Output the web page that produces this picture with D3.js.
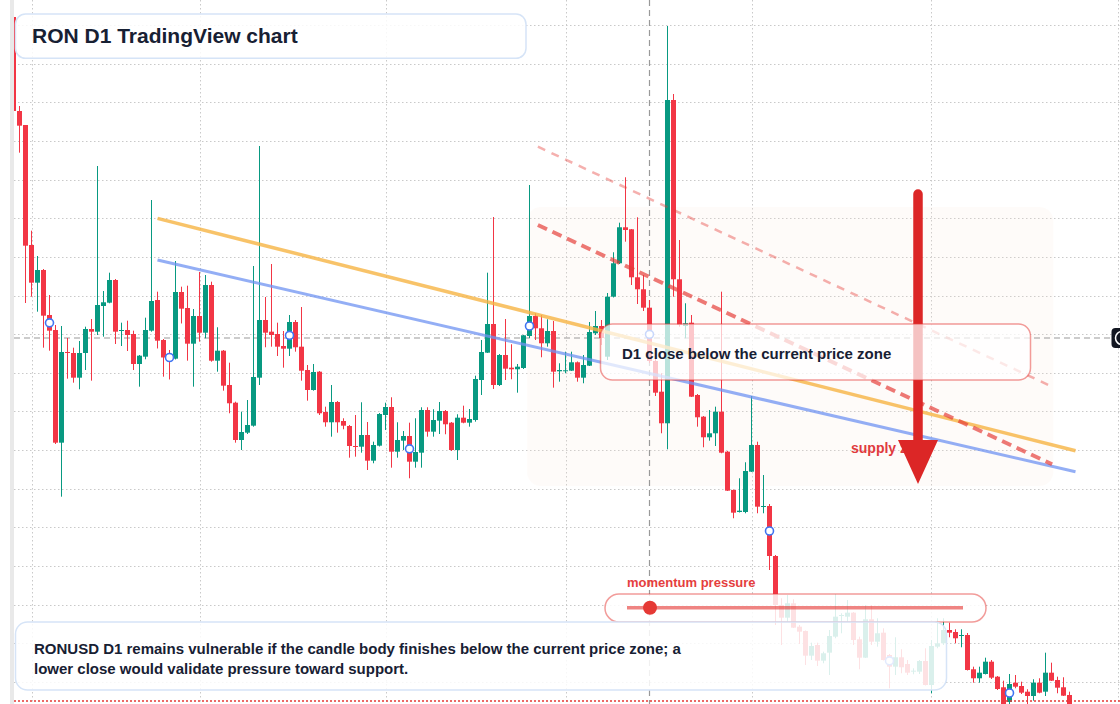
<!DOCTYPE html>
<html>
<head>
<meta charset="utf-8">
<script src="https://cdn.jsdelivr.net/npm/d3@7"></script>
<style>
  html, body { margin: 0; padding: 0; background: #fff; }
  svg { display: block; font-family: "Liberation Sans", Arial, Helvetica, sans-serif; }
</style>
</head>
<body>
<svg id="chart" width="1120" height="704"></svg>
<script>
// RONUSD daily candles, first bar 2025-01-29
const startDay = Date.UTC(2025, 0, 29);

const opens = [
  1.9575, 1.7225, 1.6875, 1.3875, 1.2933, 1.325, 1.2125, 1.175, 0.8933, 1.12,
  1.1175, 1.0558, 1.1175, 1.1775, 1.1708, 1.235, 1.2433, 1.3, 1.1738, 1.175,
  1.165, 1.09, 1.1083, 1.1733, 1.25, 1.15, 1.11, 1.1033, 1.27, 1.23,
  1.1408, 1.21, 1.1683, 1.2875, 1.0983, 1.1233, 1.0375, 0.9933, 0.9, 0.9183,
  0.9358, 1.0558, 1.2, 1.1708, 1.165, 1.135, 1.1283, 1.195, 1.1333, 1.075,
  1.025, 1.0708, 0.97, 0.9443, 0.995, 0.9475, 0.935, 0.885, 0.8833, 0.9125,
  0.8483, 0.8858, 0.9625, 0.9825, 0.8708, 0.8983, 0.91, 0.8458, 0.8683, 0.975,
  0.9208, 0.9483, 0.9725, 0.9433, 0.875, 0.9558, 0.9433, 0.95, 1.05, 1.1183,
  1.19, 1.0375, 1.1125, 1.0808, 1.0768, 1.08, 1.16, 1.21, 1.1793, 1.1418,
  1.1725, 1.0718, 1.0725, 1.0733, 1.0943, 1.0558, 1.0858, 1.1668, 1.185, 1.1083,
  1.2583, 1.3418, 1.4318, 1.4268, 1.3068, 1.2768, 1.2308, 1.0975, 1.0208, 0.9418,
  1.75, 1.3018, 1.185, 1.1933, 1.0125, 0.9583, 0.9068, 0.9168, 0.9708, 0.8708,
  0.775, 0.72, 0.72, 0.8208, 0.8875, 0.7333, 0.735, 0.61, 0.4875, 0.4558,
  0.4918, 0.4333, 0.4225, 0.3608, 0.3875, 0.3483, 0.3683, 0.4083, 0.4608, 0.4583,
  0.4683, 0.4018, 0.3558, 0.4518, 0.3958, 0.4183, 0.3625, 0.3333, 0.3568, 0.34,
  0.3208, 0.3208, 0.3475, 0.2875, 0.3833, 0.3918, 0.425, 0.42, 0.4113, 0.4125,
  0.3268, 0.3043, 0.315, 0.3458, 0.3083, 0.2818, 0.245, 0.2933, 0.285, 0.2708,
  0.26, 0.2933, 0.2708, 0.3183, 0.3, 0.2818, 0.2625
];
const highs = [
  1.9625, 1.735, 1.6875, 1.4233, 1.36, 1.3275, 1.2625, 1.1875, 1.185, 1.155,
  1.1308, 1.1475, 1.1833, 1.2025, 1.585, 1.2725, 1.3183, 1.3025, 1.1933, 1.1983,
  1.1733, 1.1125, 1.2058, 1.5, 1.2708, 1.1525, 1.125, 1.3475, 1.2833, 1.2858,
  1.2275, 1.32, 1.3125, 1.2958, 1.1818, 1.125, 1.0933, 0.9958, 0.9708, 1.0,
  1.335, 1.635, 1.2575, 1.34, 1.1933, 1.1725, 1.2125, 1.2, 1.2325, 1.0875,
  1.09, 1.0725, 0.9833, 1.0375, 0.9975, 0.9543, 0.9375, 0.9625, 0.9943, 0.945,
  0.8958, 0.9675, 0.9933, 1.0068, 0.9443, 0.9225, 0.9433, 0.9543, 0.9818, 0.9818,
  0.9768, 0.995, 0.975, 0.945, 0.9643, 0.9858, 0.9775, 1.0608, 1.15, 1.3183,
  1.4575, 1.115, 1.2025, 1.1393, 1.09, 1.1625, 1.5375, 1.2168, 1.2125, 1.2018,
  1.1975, 1.0918, 1.1208, 1.1208, 1.0963, 1.1125, 1.195, 1.2225, 1.2, 1.2675,
  1.3693, 1.4433, 1.5568, 1.4275, 1.4568, 1.3125, 1.25, 1.1125, 1.0668, 1.935,
  1.765, 1.4, 1.2418, 1.2125, 1.015, 0.96, 0.975, 0.9833, 1.2708, 0.8725,
  0.7763, 0.8043, 0.8443, 1.01, 0.8958, 0.8125, 0.74, 0.6125, 0.5043, 0.5125,
  0.5018, 0.4375, 0.4238, 0.3933, 0.3933, 0.3708, 0.425, 0.515, 0.4668, 0.5,
  0.47, 0.4083, 0.4875, 0.4875, 0.4543, 0.4293, 0.365, 0.4068, 0.3768, 0.35,
  0.3293, 0.35, 0.3793, 0.4, 0.4543, 0.4543, 0.4433, 0.4268, 0.4268, 0.4175,
  0.3333, 0.3333, 0.3558, 0.35, 0.31, 0.2983, 0.315, 0.3125, 0.2958, 0.2768,
  0.3018, 0.3043, 0.3683, 0.3433, 0.3083, 0.3068, 0.2708
];
const lows = [
  1.7225, 1.6183, 1.2425, 1.2583, 1.2208, 1.1308, 1.1233, 0.89, 0.7583, 1.0533,
  1.0433, 1.0268, 1.075, 1.0483, 1.1625, 1.1583, 1.2418, 1.14, 1.135, 1.1225,
  1.075, 1.0333, 1.1018, 1.1708, 1.1288, 1.0583, 1.0513, 1.1013, 1.1913, 1.0983,
  1.0333, 1.1458, 1.1543, 1.0958, 1.0708, 1.0233, 0.9668, 0.8933, 0.875, 0.915,
  0.9333, 1.0375, 1.1318, 1.1333, 1.11, 1.0808, 1.11, 1.1208, 1.0483, 0.9983,
  1.0233, 0.9625, 0.9333, 0.9083, 0.9183, 0.9268, 0.8558, 0.8583, 0.8683, 0.825,
  0.8418, 0.8838, 0.925, 0.8308, 0.8558, 0.875, 0.8043, 0.8308, 0.8308, 0.9083,
  0.9083, 0.915, 0.9143, 0.8725, 0.85, 0.9418, 0.9333, 0.9458, 1.0125, 1.1175,
  1.0275, 1.035, 1.05, 1.0518, 1.0183, 1.0775, 1.155, 1.15, 1.1068, 1.1333,
  1.0308, 1.0458, 1.0668, 1.0725, 1.0458, 1.0418, 1.085, 1.1625, 1.1375, 1.1,
  1.2563, 1.34, 1.3958, 1.2875, 1.24, 1.2225, 1.0925, 1.01, 0.9168, 0.8768,
  1.2583, 1.1833, 1.1543, 1.0075, 0.9333, 0.8818, 0.8983, 0.885, 0.8668, 0.7725,
  0.7043, 0.7188, 0.7168, 0.82, 0.7168, 0.7168, 0.575, 0.4375, 0.3875, 0.4458,
  0.43, 0.39, 0.3375, 0.35, 0.335, 0.3418, 0.3125, 0.4043, 0.4168, 0.4458,
  0.3875, 0.3268, 0.355, 0.3875, 0.3833, 0.3488, 0.2793, 0.3125, 0.3168, 0.3125,
  0.3143, 0.315, 0.2863, 0.2668, 0.3793, 0.3875, 0.4068, 0.3918, 0.3818, 0.3238,
  0.2933, 0.2933, 0.3138, 0.3025, 0.275, 0.22, 0.22, 0.2793, 0.265, 0.24,
  0.2483, 0.2668, 0.26, 0.2975, 0.2668, 0.26, 0.225
];
const closes = [
  1.7225, 1.6858, 1.3858, 1.2933, 1.325, 1.2108, 1.1733, 0.8933, 1.12, 1.1175,
  1.0558, 1.1175, 1.1775, 1.1708, 1.2375, 1.2443, 1.3, 1.1708, 1.175, 1.1625,
  1.09, 1.1108, 1.175, 1.2475, 1.1483, 1.1063, 1.1025, 1.27, 1.2283, 1.1408,
  1.21, 1.1683, 1.2875, 1.0983, 1.1233, 1.0358, 0.9918, 0.9, 0.92, 0.9375,
  1.0575, 1.2, 1.1683, 1.1625, 1.1333, 1.1283, 1.195, 1.1318, 1.0733, 1.025,
  1.07, 0.9668, 0.9443, 0.995, 0.9443, 0.9358, 0.885, 0.8833, 0.9125, 0.8483,
  0.8875, 0.965, 0.9825, 0.8708, 0.9, 0.91, 0.8458, 0.87, 0.975, 0.9208,
  0.95, 0.9725, 0.9393, 0.875, 0.9558, 0.9433, 0.9525, 1.0525, 1.12, 1.19,
  1.0375, 1.1125, 1.0783, 1.0768, 1.0833, 1.1618, 1.21, 1.1793, 1.1418, 1.1725,
  1.0708, 1.075, 1.0743, 1.0943, 1.0558, 1.0875, 1.17, 1.185, 1.155, 1.2583,
  1.3418, 1.4318, 1.425, 1.3068, 1.2768, 1.2308, 1.0975, 1.0183, 0.9418, 1.75,
  1.3018, 1.1875, 1.1918, 1.0083, 0.9568, 0.9068, 0.9168, 0.9708, 0.8683, 0.7733,
  0.7183, 0.7233, 0.8225, 0.8875, 0.7333, 0.735, 0.61, 0.4875, 0.4558, 0.4918,
  0.4308, 0.4208, 0.3608, 0.385, 0.3483, 0.3668, 0.41, 0.4583, 0.4625, 0.4683,
  0.4, 0.3558, 0.4518, 0.3958, 0.4168, 0.35, 0.3333, 0.3568, 0.3318, 0.3183,
  0.3233, 0.3475, 0.2875, 0.385, 0.3918, 0.425, 0.4183, 0.4043, 0.4125, 0.325,
  0.3043, 0.3183, 0.3458, 0.3058, 0.2775, 0.23, 0.29, 0.2833, 0.2683, 0.26,
  0.2933, 0.2683, 0.3183, 0.2983, 0.2808, 0.2608, 0.2375
];

// price levels of the dotted grid
const gridPrices = [1.938, 1.841, 1.745, 1.648, 1.551, 1.455, 1.358, 1.261, 1.165,
  1.068, 0.972, 0.875, 0.778, 0.682, 0.585, 0.488, 0.392, 0.295];

// drawings: [bar index, price]
const trendUpper = [[24, 1.454], [177, 0.873]];
const trendLower = [[24, 1.35], [177, 0.8208]];
const channelMain = [[87.4, 1.4375], [173.1, 0.8393]];
const channelOuter = [[87.4, 1.6333], [173.1, 1.0333]];
const supplyZone = { from: 85.6, to: 173.3, top: 1.4825, bottom: 0.785 };
const arrowPath = { at: 150.75, top: 1.515, tip: 0.79 };
const markerBars = [6, 26, 46, 66, 86, 106, 126, 146, 166];
const crossBar = 106, crossPrice = 1.155;
const supportPrice = 0.2475;

const titleText = "RON D1 TradingView chart";
const boxText = "D1 close below the current price zone";
const zoneText = "supply zone";
const momentumText = "momentum pressure";
const noteLines = [
  "RONUSD D1 remains vulnerable if the candle body finishes below the current price zone; a",
  "lower close would validate pressure toward support."
];

const width = 1120, height = 704;
const up = "#089981", down = "#f23645";
const textDark = "#172033";

const dates = opens.map((d, i) => d3.utcDay.offset(new Date(startDay), i));
const candles = dates.map((d, i) => ({ date: d, o: opens[i], h: highs[i], l: lows[i], c: closes[i] }));

const x = d3.scaleUtc()
  .domain([dates[0], dates[dates.length - 1]])
  .range([13.5, 1069.5]);
const y = d3.scaleLinear().domain([0.24, 2]).range([height, 0]);
const xAt = i => x(new Date(startDay + i * 864e5));

const svg = d3.select("#chart");

svg.append("rect").attr("width", width).attr("height", height).attr("fill", "#fff");

svg.append("defs").append("clipPath").attr("id", "plot")
  .append("rect").attr("x", 14).attr("y", 0).attr("width", width - 14).attr("height", height);

const plot = svg.append("g").attr("clip-path", "url(#plot)");

// grid
const months = d3.utcMonth.range(new Date(Date.UTC(2025, 1, 1)), new Date(Date.UTC(2025, 7, 2)));
plot.append("g")
  .selectAll("line")
  .data(months)
  .join("line")
  .attr("x1", d => Math.round(x(d)) + 0.5).attr("x2", d => Math.round(x(d)) + 0.5)
  .attr("y1", 0).attr("y2", height)
  .attr("stroke", "#c9c9c9").attr("stroke-dasharray", "1.5 2.5");
plot.append("g")
  .selectAll("line")
  .data(gridPrices)
  .join("line")
  .attr("x1", 14).attr("x2", width)
  .attr("y1", d => Math.round(y(d)) + 0.5).attr("y2", d => Math.round(y(d)) + 0.5)
  .attr("stroke", "#c9c9c9").attr("stroke-dasharray", "1.5 2.5");

// supply zone
plot.append("rect")
  .attr("x", xAt(supplyZone.from)).attr("y", y(supplyZone.top))
  .attr("width", xAt(supplyZone.to) - xAt(supplyZone.from))
  .attr("height", y(supplyZone.bottom) - y(supplyZone.top))
  .attr("rx", 14)
  .attr("fill", "#f7e6da").attr("fill-opacity", 0.16);

// crosshair
plot.append("line")
  .attr("x1", Math.round(xAt(crossBar)) - 0.5).attr("x2", Math.round(xAt(crossBar)) - 0.5)
  .attr("y1", 0).attr("y2", height)
  .attr("stroke", "#999").attr("stroke-width", 1.2).attr("stroke-dasharray", "6 4");
plot.append("line")
  .attr("x1", 14).attr("x2", 1111)
  .attr("y1", y(crossPrice)).attr("y2", y(crossPrice))
  .attr("stroke", "#999").attr("stroke-width", 1.2).attr("stroke-dasharray", "6 4");

// candles
const cg = plot.append("g");
cg.selectAll("line")
  .data(candles)
  .join("line")
  .attr("x1", d => x(d.date)).attr("x2", d => x(d.date))
  .attr("y1", d => y(d.h)).attr("y2", d => y(d.l))
  .attr("stroke", d => d.c >= d.o ? up : down)
  .attr("stroke-width", 1);
cg.selectAll("rect")
  .data(candles)
  .join("rect")
  .attr("x", d => x(d.date) - 2.5)
  .attr("y", d => y(Math.max(d.o, d.c)))
  .attr("width", 5)
  .attr("height", d => Math.max(1, Math.abs(y(d.o) - y(d.c))))
  .attr("fill", d => d.c >= d.o ? up : down);

// trend lines
const line = d3.line().x(d => xAt(d[0])).y(d => y(d[1]));
plot.append("path").attr("d", line(trendUpper))
  .attr("fill", "none").attr("stroke", "#f6b443").attr("stroke-opacity", 0.8)
  .attr("stroke-width", 3.5);
plot.append("path").attr("d", line(trendLower))
  .attr("fill", "none").attr("stroke", "#6f93f2").attr("stroke-opacity", 0.75)
  .attr("stroke-width", 3);
plot.append("path").attr("d", line(channelOuter))
  .attr("fill", "none").attr("stroke", "#e53935").attr("stroke-opacity", 0.4)
  .attr("stroke-width", 2.5).attr("stroke-dasharray", "8 7");
plot.append("path").attr("d", line(channelMain))
  .attr("fill", "none").attr("stroke", "#e53935").attr("stroke-opacity", 0.68)
  .attr("stroke-width", 4).attr("stroke-dasharray", "10 6");

// markers at body middle
plot.append("g")
  .selectAll("circle")
  .data(markerBars)
  .join("circle")
  .attr("cx", i => x(dates[i]))
  .attr("cy", i => y((opens[i] + closes[i]) / 2))
  .attr("r", 4)
  .attr("fill", "#fff").attr("stroke", "#3f74f2").attr("stroke-width", 1.6);

// supply zone label + arrow
svg.append("text")
  .attr("x", 851).attr("y", 452.5)
  .attr("font-size", 14).attr("font-weight", "bold").attr("fill", "#e03a3e")
  .text(zoneText);

const ax = xAt(arrowPath.at), aTip = y(arrowPath.tip);
svg.append("line")
  .attr("x1", ax).attr("x2", ax)
  .attr("y1", y(arrowPath.top)).attr("y2", aTip - 40)
  .attr("stroke", "#dc2626").attr("stroke-width", 9.5).attr("stroke-linecap", "round");
svg.append("path")
  .attr("d", `M${ax - 20},${aTip - 44}L${ax + 20},${aTip - 44}L${ax},${aTip}Z`)
  .attr("fill", "#dc2626");

// note box over the price
svg.append("rect")
  .attr("x", 600.5).attr("y", 324).attr("width", 430).attr("height", 56).attr("rx", 12)
  .attr("fill", "#fff").attr("fill-opacity", 0.72)
  .attr("stroke", "#e53935").attr("stroke-opacity", 0.5).attr("stroke-width", 1.5);
svg.append("text")
  .attr("x", 622).attr("y", 359.3)
  .attr("font-size", 15).attr("font-weight", "bold").attr("fill", textDark)
  .text(boxText);

// momentum gauge
svg.append("text")
  .attr("x", 627).attr("y", 586.7)
  .attr("font-size", 13).attr("font-weight", "bold").attr("fill", "#e53e3e")
  .text(momentumText);
svg.append("rect")
  .attr("x", 605).attr("y", 594).attr("width", 381).attr("height", 28).attr("rx", 14)
  .attr("fill", "#fff").attr("fill-opacity", 0.85)
  .attr("stroke", "#e53935").attr("stroke-opacity", 0.5).attr("stroke-width", 1.5);
svg.append("line")
  .attr("x1", 627).attr("x2", 963).attr("y1", 607.7).attr("y2", 607.7)
  .attr("stroke", "#e53935").attr("stroke-opacity", 0.62).attr("stroke-width", 3.5);
svg.append("circle")
  .attr("cx", 650).attr("cy", 607.7).attr("r", 7)
  .attr("fill", "#e53935");

// bottom comment
svg.append("rect")
  .attr("x", 15.5).attr("y", 622).attr("width", 931).attr("height", 68).attr("rx", 12)
  .attr("fill", "#fff").attr("fill-opacity", 0.85)
  .attr("stroke", "#d6e4f7").attr("stroke-width", 1.5);
svg.append("g")
  .selectAll("text")
  .data(noteLines)
  .join("text")
  .attr("x", 34).attr("y", (d, i) => 653.5 + i * 20.5)
  .attr("font-size", 15).attr("font-weight", "bold").attr("fill", textDark)
  .text(d => d);

// title
svg.append("rect")
  .attr("x", 15.5).attr("y", 14).attr("width", 510.5).attr("height", 44.3).attr("rx", 10)
  .attr("fill", "#fff").attr("fill-opacity", 0.85)
  .attr("stroke", "#d6e4f7").attr("stroke-width", 1.5);
svg.append("text")
  .attr("x", 32).attr("y", 43.3)
  .attr("font-size", 21).attr("font-weight", "bold").attr("fill", textDark)
  .text(titleText);

// support level
svg.append("line")
  .attr("x1", 14).attr("x2", width)
  .attr("y1", y(supportPrice)).attr("y2", y(supportPrice))
  .attr("stroke", "#e53935").attr("stroke-width", 1.5).attr("stroke-dasharray", "2 2");

// left strip and crosshair button
svg.append("rect").attr("x", 10).attr("y", 0).attr("width", 4).attr("height", height)
  .attr("fill", "#e9e9e9");
svg.append("rect").attr("x", 1111.5).attr("y", y(crossPrice) - 10)
  .attr("width", 20).attr("height", 20).attr("rx", 4).attr("fill", "#131722");
svg.append("circle").attr("cx", 1122).attr("cy", y(crossPrice)).attr("r", 6.5)
  .attr("fill", "none").attr("stroke", "#fff").attr("stroke-width", 1.5);
</script>
</body>
</html>
